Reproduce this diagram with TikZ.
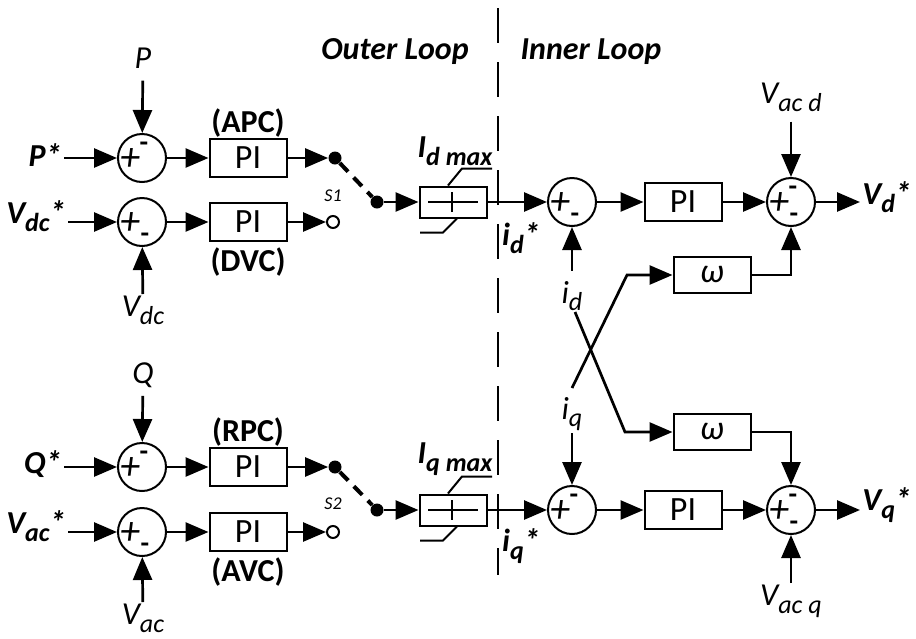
\documentclass[tikz,border=0pt]{standalone}
\usepackage{fontspec}
\setmainfont{Carlito}
\usetikzlibrary{arrows.meta,positioning,calc}
% lowered index in the current shape
\newcommand{\sbx}[1]{\raisebox{-0.24em}{\fontsize{13}{14}\selectfont #1}}

\begin{document}
\begin{tikzpicture}[x=0.5pt,y=-0.5pt,
    font=\fontsize{16}{19}\selectfont,
    >={Triangle[length=11.5pt,width=9.5pt]},
    wire/.style={line width=1.35pt},
    sumnode/.style={draw,circle,line width=1pt,minimum size=24pt,inner sep=0pt},
    blk/.style={draw,line width=1pt,minimum width=38.5pt,minimum height=19pt,inner sep=0pt,font=\fontsize{17}{19}\selectfont},
    limbox/.style={draw,line width=1pt,minimum width=33.5pt,minimum height=15.5pt,inner sep=0pt},
    dot/.style={circle,fill,inner sep=0pt,minimum size=6.5pt},
    odot/.style={circle,draw,fill=white,line width=1pt,inner sep=0pt,minimum size=6pt},
    plus/.style={inner sep=0pt,font=\fontsize{20}{20}\selectfont\itshape},
    minus/.style={inner sep=0pt,font=\fontsize{14}{14}\selectfont\bfseries},
    lbl/.style={inner sep=1pt,font=\fontsize{16}{19}\selectfont\itshape},
    blbl/.style={inner sep=1pt,font=\fontsize{16}{19}\selectfont\bfseries\itshape},
    tag/.style={inner sep=1pt,font=\fontsize{16}{19}\selectfont\bfseries}]
  \useasboundingbox (0,0) rectangle (916,638);

  % outer loop, d side
  \node[sumnode] (sP) at (142,158) {};
  \node[sumnode] (sV) at (142,222) {};
  \node[blk] (piAPC) at (248,158) {PI};
  \node[blk] (piDVC) at (248,222) {PI};
  \node[tag] (apc) at (248,123) {(APC)};
  \node[tag] (dvc) at (248,262) {(DVC)};
  \node[blbl,anchor=east] (Pref) at (64,155) {P*};
  \node[blbl,anchor=east] (Vdcref) at (68,216) {V\sbx{dc}*};
  \node[lbl] (Pm) at (143,58) {P};
  \node[lbl,anchor=north] (Vdcm) at (143,294) {V\sbx{dc}};

  \draw[wire,->] (Pref.east |- sP) -- (sP);
  \draw[wire,->] (Vdcref.east |- sV) -- (sV);
  \draw[wire,->,shorten <=5pt] (Pm) -- (sP);
  \draw[wire,->] (Vdcm) -- (sV);
  \draw[wire,->] (sP) -- (piAPC);
  \draw[wire,->] (sV) -- (piDVC);

  % outer loop, q side
  \node[sumnode] (sQ) at (142,467) {};
  \node[sumnode] (sA) at (142,532) {};
  \node[blk] (piRPC) at (248,467) {PI};
  \node[blk] (piAVC) at (248,532) {PI};
  \node[tag] (rpc) at (248,432) {(RPC)};
  \node[tag] (avc) at (248,572) {(AVC)};
  \node[blbl,anchor=east] (Qref) at (64,464) {Q*};
  \node[blbl,anchor=east] (Vacref) at (68,526) {V\sbx{ac}*};
  \node[lbl] (Qm) at (143,375) {Q};
  \node[lbl,anchor=north] (Vacm) at (143,602) {V\sbx{ac}};

  \draw[wire,->] (Qref.east |- sQ) -- (sQ);
  \draw[wire,->] (Vacref.east |- sA) -- (sA);
  \draw[wire,->,shorten <=3pt] (Qm) -- (sQ);
  \draw[wire,->] (Vacm) -- (sA);
  \draw[wire,->] (sQ) -- (piRPC);
  \draw[wire,->] (sA) -- (piAVC);

  % switches
  \node[dot] (s1a) at (335,158) {};
  \node[dot] (s1b) at (377,202) {};
  \node[odot] (s1c) at (333,222) {};
  \node[font=\fontsize{9}{10}\selectfont\itshape] (s1l) at (333,196) {S1};
  \node[dot] (s2a) at (335,467) {};
  \node[dot] (s2b) at (377,510) {};
  \node[odot] (s2c) at (333,532) {};
  \node[font=\fontsize{9}{10}\selectfont\itshape] (s2l) at (333,504) {S2};
  \draw[wire,->] (piAPC) -- (s1a);
  \draw[wire,->] (piDVC) -- (s1c);
  \draw[wire,->] (piRPC) -- (s2a);
  \draw[wire,->] (piAVC) -- (s2c);
  \draw[line width=2pt,dash pattern=on 6pt off 4pt] (s1a) -- (s1b);
  \draw[line width=2pt,dash pattern=on 6pt off 4pt] (s2a) -- (s2b);

  % limiters
  \node[limbox] (limD) at (453,202) {};
  \node[limbox] (limQ) at (453,510) {};
  \foreach \l in {limD,limQ}{
    \draw[line width=1pt] ($(\l)+(-25,0)$) -- ($(\l)+(25,0)$);
    \draw[line width=1pt] ($(\l)+(-1,-10)$) -- ($(\l)+(-1,10)$);
    \draw[line width=1pt] ($(\l.north)+(-5,0)$) -- ++(14,-17) -- ++(30,0);
    \draw[line width=1pt] ($(\l.south)+(4,0)$) -- ++(-14,14) -- ++(-23,0);
  }
  \node[blbl] (Idmax) at (455,151) {I\sbx{d max}};
  \node[blbl] (Iqmax) at (455,459) {I\sbx{q max}};
  \draw[wire,->] (s1b) -- (limD);
  \draw[wire,->] (s2b) -- (limQ);

  % divider and titles
  \draw[line width=1pt,dash pattern=on 17.5pt off 9.5pt] (498,8) -- (498,575);
  \node[blbl] (outer) at (395,52) {Outer Loop};
  \node[blbl] (inner) at (591,52) {Inner Loop};

  % inner loop, d side
  \node[sumnode] (sd1) at (572,202) {};
  \node[blk] (piD) at (683,202) {PI};
  \node[sumnode] (sd2) at (791,202) {};
  \node[blk,minimum height=18pt] (wd) at (712,275) {\textit{ω}};
  \node[blbl] (idref) at (521,238) {i\sbx{d}*};
  \node[lbl] (id) at (572,296) {i\sbx{d}};
  \node[lbl] (Vacd) at (791,97) {V\sbx{ac d}};
  \node[blbl,anchor=west] (Vdout) at (860,197) {V\sbx{d}*};
  \draw[wire,->] (limD) -- (sd1);
  \draw[wire,->] (sd1) -- (piD);
  \draw[wire,->] (piD) -- (sd2);
  \draw[wire,->] (sd2) -- (Vdout.west |- sd2);
  \draw[wire,->,shorten <=4pt] (Vacd) -- (sd2);
  \draw[wire,->,shorten <=4pt] (id) -- (sd1);
  \draw[wire,->] (wd.east) -| (sd2.south);

  % inner loop, q side
  \node[sumnode] (sq1) at (572,510) {};
  \node[blk] (piQ) at (683,510) {PI};
  \node[sumnode] (sq2) at (791,510) {};
  \node[blk,minimum height=18pt] (wq) at (712,432) {\textit{ω}};
  \node[blbl] (iqref) at (521,546) {i\sbx{q}*};
  \node[lbl] (iq) at (572,414) {i\sbx{q}};
  \node[lbl,anchor=north] (Vacq) at (791,583) {V\sbx{ac q}};
  \node[blbl,anchor=west] (Vqout) at (860,505) {V\sbx{q}*};
  \draw[wire,->] (limQ) -- (sq1);
  \draw[wire,->] (sq1) -- (piQ);
  \draw[wire,->] (piQ) -- (sq2);
  \draw[wire,->] (sq2) -- (Vqout.west |- sq2);
  \draw[wire,->] (Vacq) -- (sq2);
  \draw[wire,->] (iq) -- (sq1);
  \draw[wire,->] (wq.east) -| (sq2.north);

  % cross coupling
  \coordinate (ca1) at (575,312);
  \coordinate (ca2) at (625,432);
  \coordinate (cb1) at (572,388);
  \coordinate (cb2) at (627,275);
  \draw[wire,->] (ca1) -- (ca2) -- (wq);
  \draw[wire,->] (cb1) -- (cb2) -- (wd);

  % signs
  \foreach \s in {sP,sV,sQ,sA,sd1,sd2,sq1,sq2}
    \node[plus] at ($(\s)+(-12,2)$) {+};
  \foreach \s in {sP,sQ,sd2,sq1,sq2}
    \node[minus] at ($(\s)+(2,-11)$) {-};
  \foreach \s in {sV,sA,sd1,sd2,sq2}
    \node[minus] at ($(\s)+(3,16)$) {-};
\end{tikzpicture}
\end{document}
